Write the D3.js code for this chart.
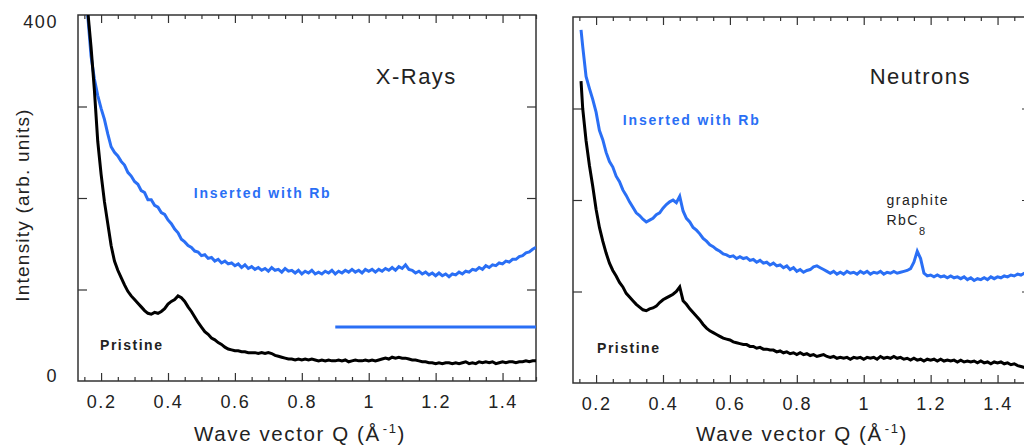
<!DOCTYPE html>
<html>
<head>
<meta charset="utf-8">
<script src="https://cdn.jsdelivr.net/npm/d3@7"></script>
<style>
  body { margin: 0; background: #fff; }
  svg { display: block; font-family: "Liberation Sans", Arial, sans-serif; }
</style>
</head>
<body>
<div id="chart"></div>
<script>
// wave vector grid (1/Angstrom)
const qValues = [0.155,0.16,0.17,0.18,0.19,0.20,0.21,0.22,0.23,0.24,0.25,0.26,0.27,0.28,0.29,0.30,0.31,0.32,0.33,0.34,0.35,0.36,0.37,0.38,0.39,0.40,0.41,0.42,0.43,0.44,0.45,0.46,0.47,0.48,0.49,0.50,0.51,0.52,0.53,0.54,0.55,0.56,0.57,0.58,0.59,0.60,0.61,0.62,0.63,0.64,0.65,0.66,0.67,0.68,0.69,0.70,0.71,0.72,0.73,0.74,0.75,0.76,0.77,0.78,0.79,0.80,0.81,0.82,0.83,0.84,0.85,0.86,0.87,0.88,0.89,0.90,0.91,0.92,0.93,0.94,0.95,0.96,0.97,0.98,0.99,1.00,1.01,1.02,1.03,1.04,1.05,1.06,1.07,1.08,1.09,1.10,1.11,1.12,1.13,1.14,1.15,1.16,1.17,1.18,1.19,1.20,1.21,1.22,1.23,1.24,1.25,1.26,1.27,1.28,1.29,1.30,1.31,1.32,1.33,1.34,1.35,1.36,1.37,1.38,1.39,1.40,1.41,1.42,1.43,1.44,1.45,1.46,1.47,1.48,1.49,1.50];

// X-rays, pristine
const xrayPristine = [440,405,365,318,262,226,196,172,148,131,121,113,105,98,93,89,85,81,77,74,73,75,74,76,79,84,87,89,93,91,87,81,76,70,64,59,54,51,47,45,42,40,37,35,34,33,33,32,32,31,31,31,30,31,30,31,30,28,27,26,25,24,24,23,24,23,24,23,24,23,22,23,22,23,22,22,23,22,23,21,22,23,22,22,23,22,23,22,23,24,25,24,26,25,26,25,25,24,23,23,22,21,21,20,20,19,20,19,20,20,19,20,19,20,21,19,20,19,21,20,21,20,21,19,20,21,20,21,21,20,21,21,22,21,22,22];

// X-rays, inserted with Rb
const xrayRb = [430,400,355,330,312,298,286,270,256,250,246,240,236,228,224,218,215,208,206,198,198,192,190,184,182,176,172,166,162,155,152,148,146,142,141,137,138,134,135,131,133,129,131,128,129,126,128,124,127,123,125,122,124,121,123,120,124,121,122,119,123,120,121,118,121,117,120,118,121,117,119,117,120,118,121,117,120,118,121,119,122,119,121,118,122,120,122,119,122,120,123,121,124,121,125,123,127,122,121,118,120,117,119,116,118,115,118,115,117,114,117,116,119,117,120,119,122,121,124,122,126,124,127,126,129,128,131,130,133,133,136,137,140,141,144,146];

// neutrons, pristine
const neutronPristine = [330,300,265,238,215,190,170,155,142,131,123,117,110,105,98,94,90,86,83,80,79,81,82,84,88,91,93,95,97,100,105,90,86,81,77,73,69,64,60,57,55,53,51,49,48,47,45,44,43,42,42,40,40,38,39,37,37,36,36,34,35,33,34,32,33,31,33,31,32,30,31,29,30,31,29,28,29,27,28,27,28,26,28,27,28,26,28,27,28,26,29,27,28,27,29,27,28,26,27,25,27,25,26,24,26,25,26,24,26,24,25,24,25,23,25,23,24,23,24,22,24,22,23,21,23,22,23,21,22,20,21,19,18,17,18,17];

// neutrons, inserted with Rb
const neutronRb = [386,368,335,322,310,296,276,266,252,242,236,226,220,211,205,198,192,186,183,179,176,178,180,184,186,191,195,198,200,197,204,188,180,176,170,167,163,158,155,151,149,146,144,141,140,138,139,136,138,136,137,134,135,132,134,131,132,129,131,128,129,126,128,124,126,122,124,121,123,124,127,128,126,124,122,120,122,119,121,119,122,120,121,119,122,120,122,119,121,120,122,119,121,120,122,120,121,122,123,125,132,144,136,120,117,118,116,118,116,117,115,117,115,116,114,116,113,115,112,114,113,115,113,116,114,116,115,117,116,118,117,119,118,120,119,120];

// flat reference line drawn in the X-ray panel
const xrayLineQ = [0.9, 1.5];
const xrayLineI = [59, 59];

const xMajorTicks = [0.2, 0.4, 0.6, 0.8, 1.0, 1.2, 1.4];
const xMinorTicks = [0.15,0.25,0.3,0.35,0.45,0.5,0.55,0.65,0.7,0.75,0.85,0.9,0.95,1.05,1.1,1.15,1.25,1.3,1.35,1.45,1.5];
const yTicks = [100, 200, 300];
const yLabelTicks = [0, 400];

const blue = "#2a6ff5";
const ink = "#222";

const W = 1024, H = 446;
const pw = 458, ph = 366;

const svg = d3.select("#chart").append("svg")
    .attr("width", W)
    .attr("height", H);

function drawPanel(cfg) {
    const g = svg.append("g").attr("transform", `translate(${cfg.left}, ${cfg.top})`);

    const x = d3.scaleLinear().domain([0.131, 1.5]).range([0, pw]);
    const y = d3.scaleLinear().domain([0, 400]).range([ph, 0]);

    g.append("clipPath").attr("id", cfg.id)
        .append("rect").attr("width", pw).attr("height", ph);

    // ticks (inward) on all four sides
    const tickStyle = sel => {
        sel.select(".domain").remove();
        sel.selectAll("line").attr("stroke", "#333").attr("stroke-width", 1.2);
    };
    g.append("g").attr("transform", `translate(0, ${ph})`)
        .call(d3.axisBottom(x).tickValues(xMinorTicks).tickSize(-4).tickFormat(""))
        .call(tickStyle);
    g.append("g").attr("transform", `translate(0, ${ph})`)
        .call(d3.axisBottom(x).tickValues(xMajorTicks).tickSize(-8).tickPadding(14).tickFormat(d3.format("~g")))
        .call(tickStyle)
        .call(a => a.selectAll("text")
            .attr("fill", ink).style("font-size", "18px").style("letter-spacing", "1.6px"));
    g.append("g")
        .call(d3.axisTop(x).tickValues(xMinorTicks).tickSize(-4).tickFormat(""))
        .call(tickStyle);
    g.append("g")
        .call(d3.axisTop(x).tickValues(xMajorTicks).tickSize(-8).tickFormat(""))
        .call(tickStyle);
    g.append("g")
        .call(d3.axisLeft(y).tickValues(yTicks).tickSize(-9).tickFormat(""))
        .call(tickStyle);
    g.append("g").attr("transform", `translate(${pw}, 0)`)
        .call(d3.axisRight(y).tickValues(yTicks).tickSize(-9).tickFormat(""))
        .call(tickStyle);

    if (cfg.yLabels) {
        g.append("g")
            .call(d3.axisLeft(y).tickValues(yLabelTicks).tickSize(0).tickPadding(20))
            .call(tickStyle)
            .call(a => a.selectAll("text")
                .attr("fill", ink).style("font-size", "18px").style("letter-spacing", "1.6px")
                .attr("dy", d => d === 400 ? "0.7em" : "0"));
    }

    // frame
    g.append("rect")
        .attr("width", pw).attr("height", ph)
        .attr("fill", "none").attr("stroke", "#333").attr("stroke-width", 1.5);

    const line = d3.line()
        .x((d, i) => x(qValues[i]))
        .y(d => y(d));

    const plot = g.append("g").attr("clip-path", `url(#${cfg.id})`);
    plot.append("path").datum(cfg.rb)
        .attr("fill", "none").attr("stroke", blue).attr("stroke-width", 3)
        .attr("stroke-linejoin", "miter").attr("d", line);
    plot.append("path").datum(cfg.pristine)
        .attr("fill", "none").attr("stroke", "#000").attr("stroke-width", 3)
        .attr("stroke-linejoin", "miter").attr("d", line);

    if (cfg.flatLine) {
        plot.append("path").datum(xrayLineI)
            .attr("fill", "none").attr("stroke", blue).attr("stroke-width", 3)
            .attr("d", d3.line().x((d, i) => x(xrayLineQ[i])).y(d => y(d)));
    }

    // annotations
    g.append("text").attr("x", x(cfg.titleAt[0])).attr("y", y(cfg.titleAt[1]))
        .attr("fill", ink).style("font-size", "22px").style("letter-spacing", "1.5px")
        .text(cfg.title);
    g.append("text").attr("x", x(cfg.rbAt[0])).attr("y", y(cfg.rbAt[1]))
        .attr("fill", blue).style("font-size", "14px").style("font-weight", "bold")
        .style("letter-spacing", "1.8px")
        .text("Inserted with Rb");
    g.append("text").attr("x", x(cfg.pristineAt[0])).attr("y", y(cfg.pristineAt[1]))
        .attr("fill", ink).style("font-size", "14px").style("font-weight", "bold")
        .style("letter-spacing", "1.5px")
        .text("Pristine");

    if (cfg.graphiteAt) {
        g.append("text").attr("x", x(cfg.graphiteAt[0])).attr("y", y(cfg.graphiteAt[1]))
            .attr("fill", ink).style("font-size", "14px").style("letter-spacing", "1.5px")
            .text("graphite");
        const t = g.append("text").attr("x", x(cfg.graphiteAt[0])).attr("y", y(cfg.graphiteAt[1] - 22))
            .attr("fill", ink).style("font-size", "14px").style("letter-spacing", "1.5px");
        t.append("tspan").text("RbC");
        t.append("tspan").attr("dy", 10).style("font-size", "11px").text("8");
    }

    // x axis title
    const xt = g.append("text")
        .attr("x", pw / 2 + cfg.titleShift).attr("y", 441 - cfg.top)
        .attr("text-anchor", "middle")
        .attr("fill", ink).style("font-size", "20.5px").style("letter-spacing", "1.6px");
    xt.append("tspan").text("Wave vector Q (Å");
    xt.append("tspan").attr("dy", -8).attr("dx", 2).style("font-size", "13px").text("-1");
    xt.append("tspan").attr("dy", 8).text(")");
}

drawPanel({
    id: "clipX", left: 78, top: 15,
    pristine: xrayPristine, rb: xrayRb, flatLine: true, yLabels: true,
    title: "X-Rays", titleAt: [1.021, 325],
    rbAt: [0.477, 200], pristineAt: [0.197, 34],
    titleShift: -7
});

drawPanel({
    id: "clipN", left: 573, top: 17,
    pristine: neutronPristine, rb: neutronRb, flatLine: false, yLabels: false,
    title: "Neutrons", titleAt: [1.018, 327],
    rbAt: [0.280, 282], pristineAt: [0.203, 33],
    graphiteAt: [1.068, 195],
    titleShift: 0
});

// y axis title
svg.append("text")
    .attr("transform", "translate(29, 205) rotate(-90)")
    .attr("text-anchor", "middle")
    .attr("fill", ink).style("font-size", "19px").style("letter-spacing", "1.2px")
    .text("Intensity (arb. units)");
</script>
</body>
</html>
